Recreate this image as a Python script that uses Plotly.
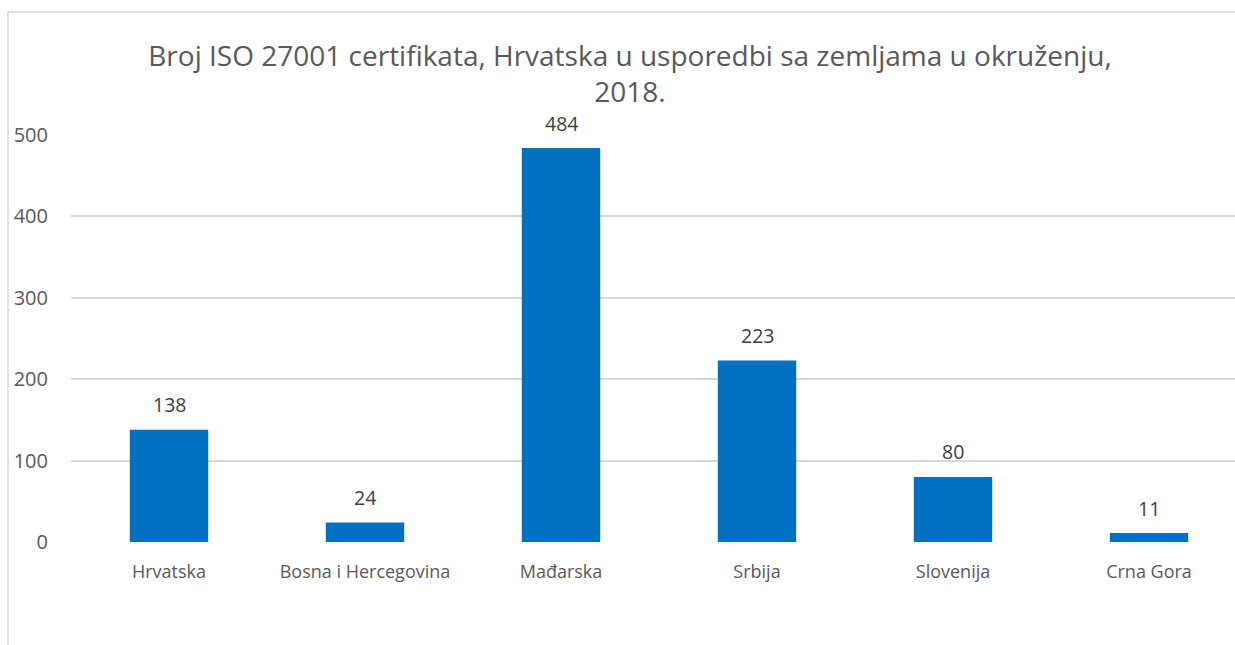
import plotly.graph_objects as go

categories = ["Hrvatska", "Bosna i Hercegovina", "Mađarska", "Srbija", "Slovenija", "Crna Gora"]
values = [138, 24, 484, 223, 80, 11]
y_ticks = [0, 100, 200, 300, 400, 500]
title_text = "Broj ISO 27001 certifikata, Hrvatska u usporedbi sa zemljama u okruženju,<br>2018."

W, H = 1235, 645
L, T, B = 71, 135, 542
pw = W - L
ph = B - T

fig = go.Figure(go.Bar(
    x=categories, y=values,
    marker=dict(color="#0070C0", line=dict(width=0)),
    width=0.4,
    cliponaxis=False,
))

for c, v in zip(categories, values):
    fig.add_annotation(x=c, y=v, text=str(v), showarrow=False, xref="x", yref="y",
                       yanchor="middle", yshift=25,
                       font=dict(family="Open Sans", size=19.5, color="#404040"))

def px_x(x):
    return (x - L) / pw

def px_y(y):
    return (B - y) / ph

fig.update_layout(
    width=W, height=H,
    margin=dict(l=L, r=0, t=T, b=H - B, autoexpand=False),
    paper_bgcolor="white", plot_bgcolor="white",
    showlegend=False,
    font=dict(family="Open Sans", color="#595959"),
    title=dict(text=title_text, x=630 / W, xanchor="center", xref="container",
               y=1 - 66 / H, yanchor="middle", yref="container",
               font=dict(family="Open Sans", size=28, color="#595959")),
    xaxis=dict(range=[-0.5, -0.5 + pw / 196], showgrid=False, showline=False, zeroline=False,
               ticks="", tickfont=dict(size=18, color="#595959"), ticklabelstandoff=17),
    yaxis=dict(range=[0, 500], tickvals=y_ticks, showgrid=True, gridcolor="#d9d9d9", gridwidth=1.5,
               zeroline=False, showline=False, ticks="",
               tickfont=dict(size=20, color="#595959"), ticklabelstandoff=22),
    shapes=[
        dict(type="line", xref="paper", yref="paper", x0=px_x(8), x1=px_x(8), y0=px_y(12), y1=px_y(H + 5),
             line=dict(color="#d9d9d9", width=1.5)),
        dict(type="line", xref="paper", yref="paper", x0=px_x(8), x1=px_x(W + 5), y0=px_y(12), y1=px_y(12),
             line=dict(color="#d9d9d9", width=1.5)),
    ],
)

fig.write_html("out.html", config={"displayModeBar": False},
               post_script="document.body.style.margin='0';document.body.style.overflow='hidden';")
